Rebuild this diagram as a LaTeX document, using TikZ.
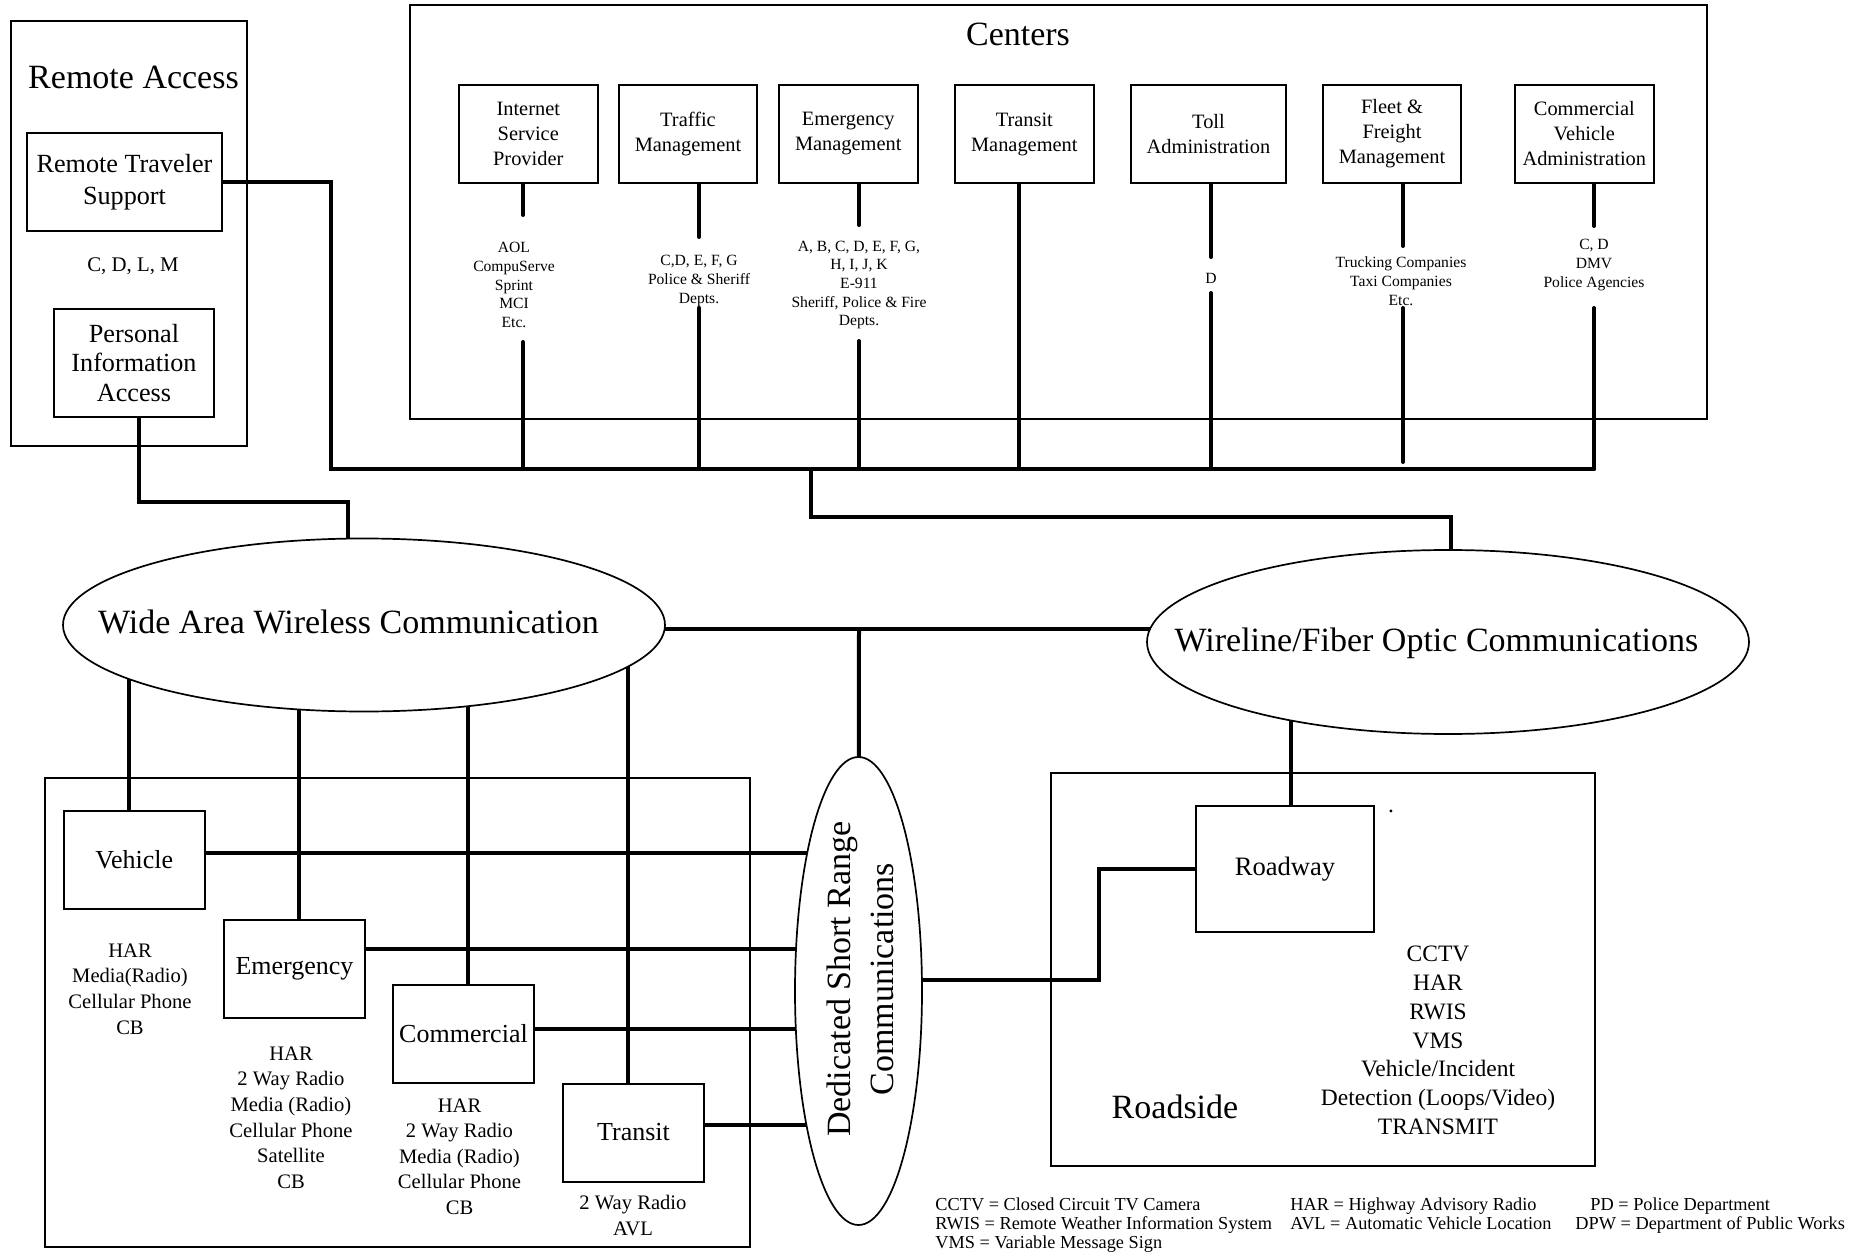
\documentclass[tikz,border=0pt]{standalone}
\usepackage{fontspec}
\setmainfont{Liberation Serif}
\usetikzlibrary{shapes.geometric}
\pgfdeclarelayer{bg}
\pgfsetlayers{bg,main}

\begin{document}
\begin{tikzpicture}[x=0.5pt,y=-0.5pt,
  conn/.style={line width=2pt, line cap=round},
  frame/.style={draw, line width=1pt, inner sep=0pt},
  unit/.style={draw, line width=1pt, fill=white, align=center, inner sep=1pt},
  cbox/.style={unit, minimum height=49pt, font=\fontsize{10.2}{12.5}\selectfont},
  lbox/.style={unit, minimum width=70.5pt, minimum height=49pt, font=\fontsize{13}{15}\selectfont},
  cloud/.style={draw, ellipse, line width=0.85pt, fill=white, inner sep=0pt},
  big/.style={font=\fontsize{17}{20}\selectfont, inner sep=0pt},
  clist/.style={font=\fontsize{7.8}{9.35}\selectfont, align=center, inner sep=0pt},
  llist/.style={font=\fontsize{10.3}{12.8}\selectfont, align=center, inner sep=0pt},
  keytext/.style={font=\fontsize{9.15}{9.5}\selectfont, anchor=base west, inner sep=0pt}
]
\useasboundingbox (0,0) rectangle (1849,1252);

% ---------------- Remote access ----------------
\node[frame, minimum width=118pt, minimum height=212.5pt] (remote) at (129,233.5) {};
\node[big] (remotetitle) at (133.5,77) {Remote Access};
\node[unit, minimum width=97.5pt, minimum height=49pt, font=\fontsize{13.1}{16}\selectfont] (rts) at (124.5,182) {Remote Traveler\\Support};
\node[font=\fontsize{10.4}{12}\selectfont, inner sep=0pt] (rtscodes) at (133,266) {C, D, L, M};
\node[unit, minimum width=80pt, minimum height=54pt, font=\fontsize{13.1}{14.8}\selectfont] (pia) at (134,363) {Personal\\Information\\Access};

% ---------------- Centers ----------------
\node[frame, minimum width=648.5pt, minimum height=207pt] (centers) at (1058.5,212) {};
\node[big] (centerstitle) at (1018,34) {Centers};
\node[cbox, minimum width=69.25pt] (isp) at (528.25,134) {Internet\\Service\\Provider};
\node[cbox, minimum width=69pt] (tm) at (688,134) {Traffic\\Management};
\node[cbox, minimum width=69.25pt] (em) at (848.25,134) {Emergency\\Management};
\node[cbox, minimum width=69.3pt] (trm) at (1024.3,134) {Transit\\Management};
\node[cbox, minimum width=77.5pt] (toll) at (1208.5,134) {Toll\\Administration};
\node[cbox, minimum width=69pt] (ffm) at (1392,134) {Fleet \&\\Freight\\Management};
\node[cbox, minimum width=69.3pt] (cva) at (1584.3,134) {Commercial\\Vehicle\\Administration};

\node[clist] (isplist) at (514,285) {AOL\\CompuServe\\Sprint\\MCI\\Etc.};
\node[clist] (tmlist) at (699,281) {C,D, E, F, G\\Police \& Sheriff\\Depts.};
\node[clist] (emlist) at (859,285) {A, B, C, D, E, F, G,\\H, I, J, K\\E-911\\Sheriff, Police \& Fire\\Depts.};
\node[clist] (tolllist) at (1211,278) {D};
\node[clist] (ffmlist) at (1401,281) {Trucking Companies\\Taxi Companies\\Etc.};
\node[clist] (cvalist) at (1594,265) {C, D\\DMV\\Police Agencies};

% ---------------- Vehicles ----------------
\node[frame, minimum width=352.5pt, minimum height=234.5pt] (vehgroup) at (397.5,1012.5) {};
\node[lbox] (veh) at (134.25,860) {Vehicle};
\node[lbox] (emv) at (294.5,969) {Emergency};
\node[lbox] (com) at (463.5,1034) {Commercial};
\node[lbox] (trv) at (633.5,1132.5) {Transit};
\node[llist] (vehlist) at (130,989) {HAR\\Media(Radio)\\Cellular Phone\\CB};
\node[llist] (emvlist) at (291,1117.5) {HAR\\2 Way Radio\\Media (Radio)\\Cellular Phone\\Satellite\\CB};
\node[llist] (comlist) at (459.5,1156.5) {HAR\\2 Way Radio\\Media (Radio)\\Cellular Phone\\CB};
\node[llist] (trvlist) at (633,1215.5) {2 Way Radio\\AVL};

% ---------------- Communication media ----------------
\node[cloud, minimum width=301pt, minimum height=86.5pt] (wa) at (364,625) {};
\node[big] (walabel) at (348.5,622) {Wide Area Wireless Communication};
\node[cloud, minimum width=301pt, minimum height=92pt] (wl) at (1448,642) {};
\node[big] (wllabel) at (1436.5,643) {Wireline/Fiber Optic Communications};
\node[cloud, minimum width=63.5pt, minimum height=234pt] (dsrc) at (858.5,991) {};
\node[rotate=90, align=center, inner sep=0pt, font=\fontsize{17}{21.5}\selectfont] (dsrclabel) at (860,979) {Dedicated Short Range\\Communications};

% ---------------- Roadside ----------------
\node[frame, minimum width=272pt, minimum height=196.5pt] (roadside) at (1323,969.5) {};
\node[big] (roadsidetitle) at (1175,1107) {Roadside};
\node[unit, minimum width=89pt, minimum height=63pt, font=\fontsize{13.3}{16}\selectfont] (roadway) at (1285,869) {Roadway};
\node[font=\fontsize{11.75}{14.4}\selectfont, align=center, inner sep=0pt] (rslist) at (1438,1040.5) {CCTV\\HAR\\RWIS\\VMS\\Vehicle/Incident\\Detection (Loops/Video)\\TRANSMIT};
\node[font=\fontsize{11.75}{14}\selectfont, anchor=base, inner sep=0pt] (stray) at (1391,812) {.};

% ---------------- Key ----------------
\node[keytext] (keycctv) at (935,1210.5) {CCTV = Closed Circuit TV Camera};
\node[keytext] (keyrwis) at (935,1229.5) {RWIS = Remote Weather Information System};
\node[keytext] (keyvms) at (935,1248.5) {VMS = Variable Message Sign};
\node[keytext] (keyhar) at (1290,1210.5) {HAR = Highway Advisory Radio};
\node[keytext] (keyavl) at (1290,1229.5) {AVL = Automatic Vehicle Location};
\node[keytext] (keypd) at (1590,1210.5) {PD = Police Department};
\node[keytext] (keydpw) at (1575,1229.5) {DPW = Department of Public Works};

% ---------------- Connectors ----------------
\coordinate (bus-l) at (331,469);
\coordinate (bus-r) at (1594,469);
\coordinate (bus-drop) at (811,469);
\coordinate (isp-t) at (523,215);   \coordinate (isp-b) at (523,342);
\coordinate (tm-t) at (699,237);    \coordinate (tm-b) at (699,308);
\coordinate (em-t) at (859,225);    \coordinate (em-b) at (859,341);
\coordinate (trm-b) at (1019,469);
\coordinate (toll-t) at (1211,257); \coordinate (toll-b) at (1211,293);
\coordinate (ffm-t) at (1403,246);  \coordinate (ffm-b) at (1403,308); \coordinate (ffm-e) at (1403,462);
\coordinate (cva-t) at (1594,226);  \coordinate (cva-b) at (1594,308);
\coordinate (hub) at (859,629);
\coordinate (rw-bend) at (1099,980);

\begin{pgfonlayer}{bg}
  % remote access to the center bus
  \draw[conn] (rts.east) -| (bus-l) -- (bus-r);
  \draw[conn] ([xshift=2.5pt]pia.south) -- ++(0,84) -| ([xshift=-8pt]wa.center);
  % centers to the bus
  \draw[conn] (isp.south -| isp-t) -- (isp-t);
  \draw[conn] (isp-b) -- (isp-b |- bus-l);
  \draw[conn] (tm.south -| tm-t) -- (tm-t);
  \draw[conn] (tm-b) -- (tm-b |- bus-l);
  \draw[conn] (em.south -| em-t) -- (em-t);
  \draw[conn] (em-b) -- (em-b |- bus-l);
  \draw[conn] (trm.south -| trm-b) -- (trm-b);
  \draw[conn] (toll.south -| toll-t) -- (toll-t);
  \draw[conn] (toll-b) -- (toll-b |- bus-l);
  \draw[conn] (ffm.south -| ffm-t) -- (ffm-t);
  \draw[conn] (ffm-b) -- (ffm-e);
  \draw[conn] (cva.south -| cva-t) -- (cva-t);
  \draw[conn] (cva-b) -- (bus-r);
  % bus to wireline
  \draw[conn] (bus-drop) -- ++(0,48) -| ([xshift=1.5pt]wl.center);
  % wide area wireless to vehicles
  \draw[conn] ([xshift=-2.6pt]veh.north) -- ([xshift=-2.6pt]veh.north |- wa.center);
  \draw[conn] ([xshift=2.25pt]emv.north) -- ([xshift=2.25pt]emv.north |- wa.center);
  \draw[conn] ([xshift=2.25pt]com.north) -- ([xshift=2.25pt]com.north |- wa.center);
  \draw[conn] ([xshift=-2.75pt]trv.north) -- ([xshift=-2.75pt]trv.north |- wa.center);
  % vehicles to short range
  \draw[conn] ([yshift=3.5pt]veh.east) -- ([yshift=3.5pt]veh.east -| dsrc.center);
  \draw[conn] ([yshift=10pt]emv.east) -- ([yshift=10pt]emv.east -| dsrc.center);
  \draw[conn] ([yshift=2.5pt]com.east) -- ([yshift=2.5pt]com.east -| dsrc.center);
  \draw[conn] ([yshift=3.75pt]trv.east) -- ([yshift=3.75pt]trv.east -| dsrc.center);
  % media interconnection
  \draw[conn] ([yshift=-2pt]wa.center) -- (hub) -- (hub -| wl.center);
  \draw[conn] (hub) -- (dsrc.center);
  % roadway links
  \draw[conn] (dsrc.center |- rw-bend) -- (rw-bend) |- (roadway.west);
  \draw[conn] ([xshift=3pt]roadway.north) -- ([xshift=3pt]roadway.north |- wl.center);
\end{pgfonlayer}
\end{tikzpicture}
\end{document}
